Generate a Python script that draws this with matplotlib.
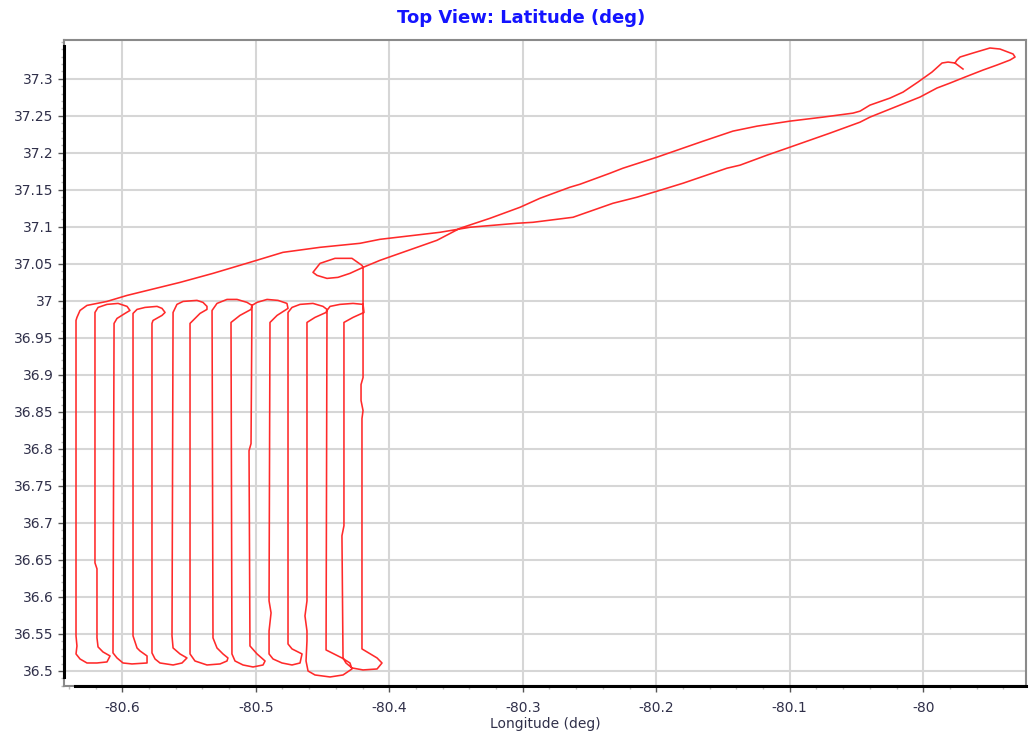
import numpy as np
import matplotlib
matplotlib.use("Agg")
import matplotlib.pyplot as plt
from matplotlib.ticker import MultipleLocator, FormatStrFormatter
from matplotlib.lines import Line2D

# flight track, (longitude, latitude) in degrees
# hook at the far end, then the westbound leg back to the survey block
upper_leg = [
    (-79.9702, 37.3133), (-79.9762, 37.3214), (-79.9814, 37.3227), (-79.9859, 37.3214),
    (-79.9934, 37.3092), (-80.0039, 37.2957), (-80.0151, 37.2821), (-80.0249, 37.2740),
    (-80.0399, 37.2645), (-80.0473, 37.2564), (-80.0526, 37.2537), (-80.0751, 37.2483),
    (-80.0998, 37.2429), (-80.1245, 37.2361), (-80.1425, 37.2294), (-80.1649, 37.2158),
    (-80.1822, 37.2050), (-80.1994, 37.1942), (-80.2249, 37.1793), (-80.2346, 37.1725),
    (-80.2571, 37.1576), (-80.2646, 37.1536), (-80.2870, 37.1387), (-80.3020, 37.1265),
    (-80.3245, 37.1116), (-80.3470, 37.0981), (-80.3642, 37.0819), (-80.3919, 37.0643),
    (-80.4069, 37.0548), (-80.4196, 37.0453),
]

small_loop = [
    (-80.4294, 37.0372), (-80.4384, 37.0318), (-80.4466, 37.0304), (-80.4541, 37.0345),
    (-80.4571, 37.0386), (-80.4518, 37.0507), (-80.4406, 37.0575), (-80.4279, 37.0575),
    (-80.4204, 37.0480), (-80.4196, 37.0453),
]

survey_lanes = [
    (-80.4196, 36.8965), (-80.4211, 36.8870), (-80.4211, 36.8654), (-80.4196, 36.8518),
    (-80.4204, 36.8410), (-80.4204, 36.5298), (-80.4091, 36.5176), (-80.4054, 36.5108),
    (-80.4091, 36.5027), (-80.4196, 36.5014), (-80.4279, 36.5041), (-80.4324, 36.5108),
    (-80.4346, 36.5176), (-80.4354, 36.6827), (-80.4339, 36.6962), (-80.4339, 36.9709),
    (-80.4271, 36.9777), (-80.4189, 36.9844), (-80.4196, 36.9953), (-80.4271, 36.9966),
    (-80.4369, 36.9953), (-80.4443, 36.9926), (-80.4466, 36.9871), (-80.4473, 36.5284),
    (-80.4354, 36.5176), (-80.4294, 36.5108), (-80.4279, 36.5027), (-80.4346, 36.4946),
    (-80.4443, 36.4919), (-80.4556, 36.4946), (-80.4608, 36.5000), (-80.4623, 36.5135),
    (-80.4616, 36.5406), (-80.4616, 36.5541), (-80.4631, 36.5744), (-80.4616, 36.5947),
    (-80.4616, 36.9709), (-80.4556, 36.9777), (-80.4473, 36.9844), (-80.4466, 36.9885),
    (-80.4496, 36.9926), (-80.4571, 36.9966), (-80.4668, 36.9953), (-80.4728, 36.9912),
    (-80.4758, 36.9844), (-80.4758, 36.5365), (-80.4728, 36.5298), (-80.4653, 36.5230),
    (-80.4668, 36.5108), (-80.4728, 36.5081), (-80.4803, 36.5108), (-80.4870, 36.5162),
    (-80.4900, 36.5230), (-80.4900, 36.5541), (-80.4885, 36.5785), (-80.4900, 36.5947),
    (-80.4893, 36.9709), (-80.4840, 36.9804), (-80.4758, 36.9899), (-80.4766, 36.9966),
    (-80.4833, 37.0007), (-80.4915, 37.0020), (-80.4990, 36.9980), (-80.5028, 36.9939),
    (-80.5035, 36.8072), (-80.5050, 36.7977), (-80.5043, 36.5338), (-80.4990, 36.5230),
    (-80.4930, 36.5135), (-80.4945, 36.5081), (-80.5020, 36.5054), (-80.5095, 36.5081),
    (-80.5155, 36.5135), (-80.5178, 36.5230), (-80.5185, 36.9709), (-80.5118, 36.9804),
    (-80.5035, 36.9885), (-80.5028, 36.9939), (-80.5065, 36.9980), (-80.5140, 37.0020),
    (-80.5215, 37.0020), (-80.5290, 36.9966), (-80.5327, 36.9871), (-80.5320, 36.5447),
    (-80.5290, 36.5311), (-80.5245, 36.5230), (-80.5208, 36.5176), (-80.5215, 36.5135),
    (-80.5267, 36.5095), (-80.5365, 36.5081), (-80.5455, 36.5135), (-80.5492, 36.5230),
    (-80.5492, 36.9696), (-80.5455, 36.9763), (-80.5417, 36.9831), (-80.5365, 36.9885),
    (-80.5365, 36.9926), (-80.5395, 36.9980), (-80.5440, 37.0007), (-80.5544, 36.9993),
    (-80.5590, 36.9953), (-80.5619, 36.9844), (-80.5627, 36.5474), (-80.5619, 36.5311),
    (-80.5567, 36.5230), (-80.5515, 36.5176), (-80.5552, 36.5108), (-80.5619, 36.5081),
    (-80.5717, 36.5108), (-80.5754, 36.5162), (-80.5777, 36.5244), (-80.5777, 36.9696),
    (-80.5769, 36.9736), (-80.5702, 36.9804), (-80.5679, 36.9844), (-80.5702, 36.9899),
    (-80.5739, 36.9926), (-80.5829, 36.9912), (-80.5889, 36.9885), (-80.5919, 36.9831),
    (-80.5919, 36.5474), (-80.5889, 36.5311), (-80.5867, 36.5271), (-80.5814, 36.5203),
    (-80.5814, 36.5108), (-80.5927, 36.5095), (-80.5994, 36.5108), (-80.6039, 36.5176),
    (-80.6069, 36.5244), (-80.6061, 36.9696), (-80.6039, 36.9763), (-80.5979, 36.9831),
    (-80.5942, 36.9871), (-80.5964, 36.9926), (-80.6031, 36.9966), (-80.6114, 36.9953),
    (-80.6181, 36.9912), (-80.6204, 36.9844), (-80.6204, 36.6461), (-80.6189, 36.6380),
    (-80.6189, 36.5447), (-80.6181, 36.5325), (-80.6144, 36.5257), (-80.6091, 36.5203),
    (-80.6114, 36.5122), (-80.6189, 36.5108), (-80.6264, 36.5108), (-80.6316, 36.5162),
    (-80.6346, 36.5230), (-80.6339, 36.5338), (-80.6346, 36.5474), (-80.6346, 36.9736),
    (-80.6339, 36.9777), (-80.6316, 36.9871), (-80.6264, 36.9939), (-80.6189, 36.9966),
    (-80.6114, 36.9993),
]

# eastbound leg out to the turn at the far end
return_leg = [
    (-80.5964, 37.0074), (-80.5567, 37.0250), (-80.5320, 37.0372), (-80.5043, 37.0521),
    (-80.4796, 37.0656), (-80.4518, 37.0724), (-80.4219, 37.0778), (-80.4069, 37.0832),
    (-80.3619, 37.0927), (-80.3395, 37.0995), (-80.3043, 37.1049), (-80.2923, 37.1062),
    (-80.2623, 37.1130), (-80.2324, 37.1319), (-80.2144, 37.1401), (-80.1994, 37.1482),
    (-80.1799, 37.1590), (-80.1470, 37.1793), (-80.1372, 37.1834), (-80.1170, 37.1969),
    (-80.0998, 37.2077), (-80.0698, 37.2267), (-80.0473, 37.2415), (-80.0399, 37.2483),
    (-80.0174, 37.2645), (-80.0024, 37.2754), (-79.9897, 37.2876), (-79.9799, 37.2943),
    (-79.9687, 37.3024), (-79.9552, 37.3119), (-79.9447, 37.3187), (-79.9350, 37.3254),
    (-79.9312, 37.3295), (-79.9327, 37.3336), (-79.9425, 37.3403), (-79.9500, 37.3417),
    (-79.9627, 37.3349), (-79.9724, 37.3295), (-79.9747, 37.3254), (-79.9762, 37.3214),
]

lon_ticks = [-80.6, -80.5, -80.4, -80.3, -80.2, -80.1, -80.0]
lat_ticks = [36.5, 36.55, 36.6, 36.65, 36.7, 36.75, 36.8, 36.85, 36.9, 36.95,
             37.0, 37.05, 37.1, 37.15, 37.2, 37.25, 37.3]

track = np.array(upper_leg + small_loop + survey_lanes + return_leg)
lon, lat = track[:, 0], track[:, 1]

text_col = '#30304a'

fig = plt.figure(figsize=(10.29, 7.37), dpi=100)
ax = fig.add_axes([64 / 1029, 1 - 686 / 737, 962 / 1029, 646 / 737])

ax.plot(lon, lat, color='#ff2a2a', lw=1.15, solid_joinstyle='round')

ax.set_xlim(-80.6436, -79.923)
ax.set_ylim(36.4797, 37.3525)

# ── ticks and grid ──
ax.set_xticks(lon_ticks)
ax.set_yticks(lat_ticks)
ax.xaxis.set_minor_locator(MultipleLocator(0.02))
ax.yaxis.set_minor_locator(MultipleLocator(0.01))
ax.xaxis.set_major_formatter(FormatStrFormatter('%g'))
ax.yaxis.set_major_formatter(FormatStrFormatter('%g'))
ax.tick_params(which='major', length=4.5, width=1, color='#555555', labelsize=10,
               labelcolor=text_col)
ax.tick_params(axis='x', which='major', pad=6)
ax.tick_params(axis='y', which='major', pad=3)
ax.tick_params(which='minor', length=2.5, width=1, color='#bbbbbb')
ax.grid(True, which='major', color='#d6d6d6', lw=1.5)
ax.set_axisbelow(True)

for sp in ax.spines.values():
    sp.set_color('#8a8a8a')
    sp.set_linewidth(1.5)

# thick black axis lines inside the frame
ax.add_line(Line2D([0, 0], [0.014, 0.99], transform=ax.transAxes, color='black',
                   lw=2.2, clip_on=False, zorder=5))
ax.add_line(Line2D([0.0114, 1], [0, 0], transform=ax.transAxes, color='black',
                   lw=2.2, clip_on=False, zorder=5))

ax.set_xlabel('Longitude (deg)', fontsize=10, color=text_col, labelpad=2)
fig.text(521 / 1029, 1 - 18 / 737, 'Top View: Latitude (deg)', ha='center', va='center',
         fontsize=13, fontweight='bold', color='#1414ff')

fig.savefig('out.png', dpi=100)
